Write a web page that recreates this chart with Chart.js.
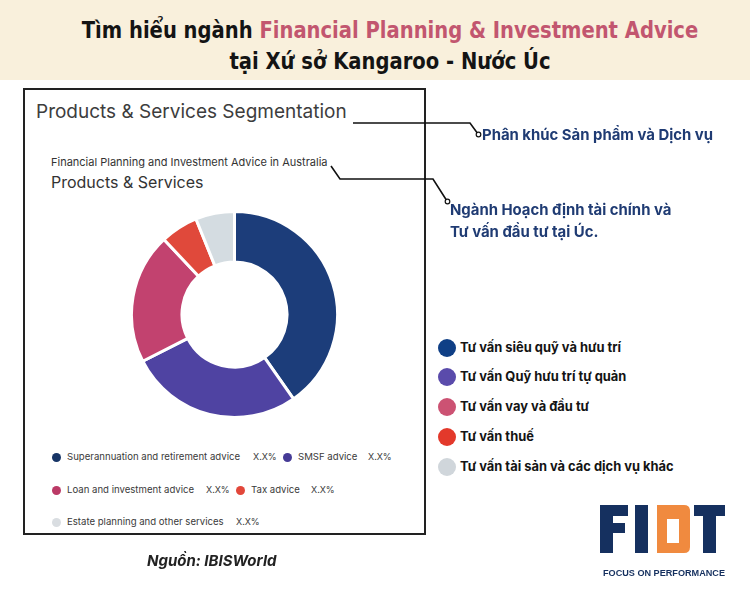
<!DOCTYPE html>
<html>
<head>
<meta charset="utf-8">
<script src="https://cdn.jsdelivr.net/npm/chart.js@4.4.1/dist/chart.umd.min.js"></script>
<style>
  html, body { margin:0; padding:0; }
  body { width:750px; height:600px; position:relative; background:#ffffff; overflow:hidden; font-family:"Inter","Noto Sans",sans-serif; }
  .band { position:absolute; left:0; top:0; width:750px; height:80px; background:#f9f0dc; }
  .title { position:absolute; left:15px; width:750px; text-align:center; font-family:"Liberation Sans Narrow","DejaVu Sans Condensed",sans-serif; font-weight:700; font-size:23.5px; color:#141414; white-space:nowrap; transform:scaleX(0.925); transform-origin:center; }
  .title .hl { color:#c2566f; }
  .card { position:absolute; left:23px; top:88px; width:399px; height:443px; border:2px solid #222; box-sizing:content-box; }
  .abs { position:absolute; white-space:nowrap; }
  #chartWrap { position:absolute; left:130px; top:210px; width:209px; height:209px; }
  .ldot { position:absolute; width:9px; height:9px; border-radius:50%; }
  .ltext { position:absolute; font-size:9.6px; color:#3a3a3a; white-space:nowrap; line-height:12px; }
  .rdot { position:absolute; width:18px; height:18px; border-radius:50%; }
  .rtext { position:absolute; font-size:12.9px; font-weight:700; color:#141414; white-space:nowrap; line-height:16px; font-family:"Inter","Noto Sans",sans-serif; }
  .ann { position:absolute; font-weight:700; color:#1f3b73; font-size:14.9px; white-space:nowrap; line-height:22px; font-family:"Inter","Noto Sans",sans-serif; }
</style>
</head>
<body>
<div class="band"></div>
<div class="title" style="top:16px;">Tìm hiểu ngành <span class="hl">Financial Planning &amp; Investment Advice</span></div>
<div class="title" style="top:47px;">tại Xứ sở Kangaroo - Nước Úc</div>

<div class="card"></div>
<div class="abs" style="left:36px; top:100px; font-size:19px; color:#3d3d3d;">Products &amp; Services Segmentation</div>
<div class="abs" style="left:51px; top:155px; font-size:11px; color:#333;">Financial Planning and Investment Advice in Australia</div>
<div class="abs" style="left:51px; top:172px; font-size:16px; color:#333;">Products &amp; Services</div>

<div id="chartWrap"><canvas id="c"></canvas></div>
<div id="innerLegend"></div>
<div id="rightLegend"></div>

<svg class="abs" style="left:0;top:0;" width="750" height="600">
  <polyline points="353,123 470,123 478,134" fill="none" stroke="#111" stroke-width="1.6"/>
  <circle cx="478.5" cy="134.5" r="2.3" fill="#fff" stroke="#111" stroke-width="1.2"/>
  <polyline points="331,166 340,179 433,179 447,201" fill="none" stroke="#111" stroke-width="1.6"/>
  <circle cx="447.5" cy="201.5" r="2.3" fill="#fff" stroke="#111" stroke-width="1.2"/>
  <!-- FIDT logo -->
  <g fill="#15305f">
    <rect x="600" y="505" width="28" height="11"/>
    <rect x="600" y="505" width="13" height="48"/>
    <rect x="600" y="523" width="25" height="10"/>
    <rect x="635" y="505" width="13" height="48"/>
    <rect x="694" y="505" width="31" height="11"/>
    <rect x="703" y="505" width="13" height="48"/>
  </g>
  <path d="M657,505 L684,505 Q690,505 690,511 L690,547 Q690,553 684,553 L657,553 Z" fill="#f08a3f"/>
  <rect x="667" y="519" width="12" height="24" fill="#ffffff"/>
  <text x="603" y="576" font-family="Liberation Sans, Arial, sans-serif" font-weight="700" font-size="9.2" fill="#15305f" textLength="122" lengthAdjust="spacingAndGlyphs">FOCUS ON PERFORMANCE</text>
</svg>

<div class="abs" style="left:147px; top:551px; font-size:15px; font-weight:700; font-style:italic; color:#222; font-family:'Inter','Noto Sans',sans-serif;">Nguồn: IBISWorld</div>

<script>
const categories = ["Superannuation and retirement advice", "SMSF advice", "Loan and investment advice", "Tax advice", "Estate planning and other services"];
const viLabels = ["Tư vấn siêu quỹ và hưu trí", "Tư vấn Quỹ hưu trí tự quản", "Tư vấn vay và đầu tư", "Tư vấn thuế", "Tư vấn tài sản và các dịch vụ khác"];
const shares = [40.3, 27.2, 20.5, 5.9, 6.1];
const shareLabels = ["X.X%", "X.X%", "X.X%", "X.X%", "X.X%"];
const sliceColors = ["#1c3d7a", "#4f43a2", "#c2426f", "#e0493b", "#d4dce1"];
const legendDotColors = ["#173566", "#463b96", "#bb3a66", "#e2473a", "#d9dde1"];
const rightDotColors = ["#0f3f86", "#5a4bab", "#cc5273", "#e3392b", "#d0d6db"];

// Inner legend (HTML) built from arrays
const inner = document.getElementById('innerLegend');
const innerLayout = [
  {i:0, dot:52, text:67, val:253, y:457},
  {i:1, dot:283, text:298, val:368, y:457},
  {i:2, dot:52, text:67, val:206, y:490},
  {i:3, dot:236, text:251, val:311, y:490},
  {i:4, dot:52, text:67, val:236, y:522}
];
innerLayout.forEach(p => {
  const d = document.createElement('div'); d.className='ldot';
  d.style.left = p.dot+'px'; d.style.top = (p.y-4.5)+'px'; d.style.background = legendDotColors[p.i];
  inner.appendChild(d);
  const t = document.createElement('div'); t.className='ltext';
  t.style.left = p.text+'px'; t.style.top = (p.y-6)+'px'; t.textContent = categories[p.i];
  inner.appendChild(t);
  const v = document.createElement('div'); v.className='ltext';
  v.style.left = p.val+'px'; v.style.top = (p.y-6)+'px'; v.style.fontSize='9px'; v.textContent = shareLabels[p.i];
  inner.appendChild(v);
});

// Right legend
const right = document.getElementById('rightLegend');
const rightY = [348, 377, 407, 437, 467];
viLabels.forEach((lab, i) => {
  const d = document.createElement('div'); d.className='rdot';
  d.style.left='438px'; d.style.top=(rightY[i]-9)+'px'; d.style.background=rightDotColors[i];
  right.appendChild(d);
  const t = document.createElement('div'); t.className='rtext';
  t.style.left='460px'; t.style.top=(rightY[i]-8)+'px'; t.textContent=lab;
  right.appendChild(t);
});

// Annotations
const ann1 = document.createElement('div'); ann1.className='ann';
ann1.style.left='482px'; ann1.style.top='124px'; ann1.textContent='Phân khúc Sản phẩm và Dịch vụ';
document.body.appendChild(ann1);
const ann2 = document.createElement('div'); ann2.className='ann';
ann2.style.left='450px'; ann2.style.top='199px'; ann2.innerHTML='Ngành Hoạch định tài chính và<br>Tư vấn đầu tư tại Úc.';
document.body.appendChild(ann2);

new Chart(document.getElementById('c'), {
  type: 'doughnut',
  data: {
    labels: categories,
    datasets: [{
      data: shares,
      backgroundColor: sliceColors,
      borderColor: '#ffffff',
      borderWidth: 3
    }]
  },
  options: {
    responsive: true,
    maintainAspectRatio: false,
    animation: false,
    cutout: '51%',
    rotation: 0,
    layout: { padding: 0 },
    plugins: { legend: { display: false }, tooltip: { enabled: false } }
  }
});
</script>
</body>
</html>
